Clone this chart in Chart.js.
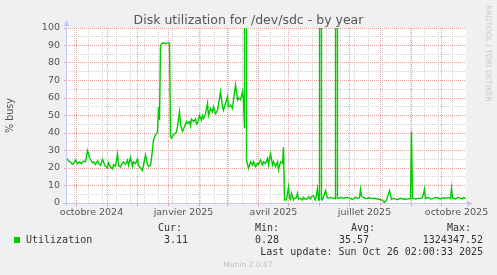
<!DOCTYPE html>
<html>
<head>
<meta charset="utf-8">
<script src="https://cdn.jsdelivr.net/npm/chart.js@4/dist/chart.umd.min.js"></script>
<style>
body { margin: 0; background: #f0f0f0; }
canvas { display: block; }
</style>
</head>
<body>
<canvas id="diskChart" width="497" height="275"></canvas>
<script>
// day 0 = 21 Sep 2024, day 399 = 26 Oct 2025 (one pixel per day)
var days = [0, 1, 2, 4, 6, 7, 9, 11, 13, 15,
  17, 19, 21, 23, 24, 26, 27, 29, 31, 33,
  34, 36, 38, 39, 41, 42, 44, 46, 47, 49,
  51, 52, 54, 55, 57, 59, 61, 62, 64, 66,
  67, 69, 71, 72, 74, 76, 77, 79, 81, 82,
  84, 85, 87, 89, 91, 92, 93, 94, 95, 97,
  99, 101, 103, 104, 105, 107, 109, 110, 111, 113,
  114, 115, 116, 118, 120, 121, 123, 124, 125, 127,
  129, 130, 131, 133, 135, 136, 137, 139, 141, 142,
  144, 146, 147, 149, 151, 152, 154, 156, 157, 159,
  161, 162, 164, 166, 167, 169, 171, 172, 174, 176,
  177, 178, 179, 180, 182, 184, 186, 187, 189, 191,
  192, 194, 196, 197, 199, 201, 202, 204, 206, 207,
  209, 211, 212, 214, 216, 217, 218, 219, 220, 222,
  223, 224, 225, 227, 228, 230, 231, 232, 234, 236,
  237, 239, 241, 242, 244, 245, 247, 248, 249, 251,
  252, 253, 254, 255, 256, 259, 261, 262, 264, 267,
  269, 270, 271, 272, 274, 277, 279, 281, 284, 286,
  289, 291, 293, 294, 295, 297, 299, 301, 303, 306,
  309, 311, 314, 316, 318, 320, 323, 325, 327, 329,
  331, 334, 337, 339, 342, 344, 345, 346, 348, 349,
  351, 354, 356, 358, 359, 362, 364, 366, 369, 372,
  374, 376, 379, 382, 384, 385, 386, 387, 389, 391,
  394, 396, 397, 398, 399];
var busy = [25, 25, 24, 23.5, 22, 22.5, 24.5, 22.5, 23.5, 22.5,
  24, 23.5, 30, 26, 25, 23, 23.5, 22, 24, 22,
  21.5, 25, 22, 21, 20, 23, 20.5, 19.5, 22, 21,
  28, 21.5, 20.5, 22, 23.5, 22, 24.5, 21.5, 26, 21,
  23.5, 22.5, 25, 21.5, 20, 18.5, 21.5, 27.4, 22, 21,
  21.5, 25.5, 36, 39, 40.4, 55, 47.4, 90, 91, 91.5,
  91, 91.5, 91.5, 38, 37, 39, 40, 40.8, 43.6, 52,
  45, 42.7, 41, 43.6, 46.5, 45.5, 46.5, 44, 48, 46.5,
  48, 45, 45.5, 50, 47.4, 50, 48.4, 51, 57, 50,
  54, 52, 55, 51, 53, 56, 63.6, 55, 53, 57,
  60.8, 55, 56, 54, 58.9, 67.4, 58.9, 60, 58.9, 63.6,
  58, 42.7, 1324347.52, 24.6, 19.8, 23.6, 21.7, 23.6, 20.8, 22.7,
  22, 24.6, 21.7, 23.6, 22.7, 25.5, 21.7, 28.4, 21.7, 23.6,
  20.8, 23.6, 18.9, 23.6, 22.7, 31.8, 1.7, 2, 1.7, 9,
  2.7, 2, 5.5, 1.7, 2.7, 3, 5.5, 2.3, 2.7, 1.7,
  3.2, 2, 2.5, 3.6, 2.3, 3.6, 4.2, 2.5, 1.7, 8.4,
  1.7, 2, 1900, 2, 1.7, 7, 2.9, 2.7, 3.2, 2.7,
  2.5, 2300, 2.7, 2.7, 3.2, 2.7, 3, 3.2, 2.5, 2,
  3.2, 2.7, 3, 7.8, 4, 3.2, 2.5, 2.7, 3, 2.5,
  2.7, 2.3, 2, 1.5, 0.28, 1.7, 7, 2, 2.7, 2.2,
  2, 2.7, 2.3, 2, 2.5, 2.3, 40.8, 2.7, 2.5, 2.3,
  2.5, 2.7, 3, 8, 2.5, 3.2, 2.3, 2.5, 3.2, 2.7,
  2.3, 3, 2.7, 3.2, 2.5, 8.4, 3, 2.7, 2.3, 3.2,
  2.7, 2.3, 3.2, 2.8, 3.11];

var monthStart = [10, 41, 71, 102, 133, 161, 192, 222, 253, 283, 314, 345, 375];
var minorDays = [8, 22, 36, 50, 64, 78, 92, 106, 120, 134, 148, 162, 176, 190,
  204, 218, 232, 246, 260, 274, 288, 302, 316, 330, 344, 358, 372, 386];
var labelDays = [25, 117, 207, 298, 390];
var labelText = ['octobre 2024', 'janvier 2025', 'avril 2025', 'juillet 2025', 'octobre 2025'];
var yTicks = [0, 5, 10, 15, 20, 25, 30, 35, 40, 45, 50, 55, 60, 65, 70, 75, 80, 85, 90, 95, 100];

var legendHead = ['Cur:', 'Min:', 'Avg:', 'Max:'];
var legendVals = ['3.11', '0.28', '35.57', '1324347.52'];

var RED = '#e6a0a0';
var GRAY = '#d2d2d2';
var AXIS = '#c4c8f4';
var NONE = 'rgba(0,0,0,0)';

var points = [];
for (var i = 0; i < days.length; i++) {
  points.push({x: days[i], y: busy[i]});
}

var muninPlugin = {
  id: 'munin',
  beforeDraw: function(c) {
    var a = c.chartArea, g = c.ctx;
    g.save();
    g.fillStyle = '#ffffff';
    g.fillRect(a.left, a.top, a.right - a.left, a.bottom - a.top);
    g.restore();
  },
  afterDraw: function(c) {
    var a = c.chartArea, g = c.ctx;
    g.save();
    // axes + arrows
    g.strokeStyle = AXIS;
    g.fillStyle = AXIS;
    g.lineWidth = 1;
    g.beginPath();
    g.moveTo(a.left - 3, a.bottom + 0.5);
    g.lineTo(a.right + 2, a.bottom + 0.5);
    g.moveTo(a.left + 0.5, a.bottom + 3);
    g.lineTo(a.left + 0.5, a.top - 2);
    g.stroke();
    g.beginPath();
    g.moveTo(a.left + 0.5, a.top - 8);
    g.lineTo(a.left - 2.5, a.top - 2);
    g.lineTo(a.left + 3.5, a.top - 2);
    g.closePath();
    g.fill();
    g.beginPath();
    g.moveTo(a.right + 7, a.bottom + 0.5);
    g.lineTo(a.right + 1, a.bottom - 2.5);
    g.lineTo(a.right + 1, a.bottom + 3.5);
    g.closePath();
    g.fill();

    // title
    g.fillStyle = '#555555';
    g.font = '12.5px "DejaVu Sans"';
    g.textAlign = 'center';
    g.textBaseline = 'alphabetic';
    g.fillText('Disk utilization for /dev/sdc - by year', 248.5, 23.5);

    // watermark
    g.save();
    g.translate(486, 53.5);
    g.rotate(Math.PI / 2);
    g.fillStyle = '#c8c8c8';
    g.font = '7.5px "DejaVu Sans"';
    g.fillText('RRDTOOL / TOBI OETIKER', 0, 0);
    g.restore();

    // legend
    g.font = '10px "DejaVu Sans Mono"';
    g.fillStyle = '#333333';
    g.textAlign = 'right';
    var headRight = [182, 279, 375, 471];
    var valRight = [188, 279, 369, 483];
    for (var k = 0; k < legendHead.length; k++) {
      g.fillText(legendHead[k], headRight[k], 231);
      g.fillText(legendVals[k], valRight[k], 243.3);
    }
    g.fillText('Last update: Sun Oct 26 02:00:33 2025', 483, 255);
    g.textAlign = 'left';
    g.fillText('Utilization', 26, 243.3);
    g.fillStyle = '#00cc00';
    g.fillRect(14, 237, 6, 6);

    g.fillStyle = '#c0c0c0';
    g.font = '7.5px "DejaVu Sans"';
    g.textAlign = 'center';
    g.fillText('Munin 2.0.67', 248, 266.5);
    g.restore();
  }
};

var ctx = document.getElementById('diskChart').getContext('2d');
var chart = new Chart(ctx, {
  type: 'line',
  data: {
    datasets: [{
      label: 'Utilization',
      data: points,
      borderColor: '#00cc00',
      borderWidth: 1.4,
      pointRadius: 0,
      fill: false,
      tension: 0
    }]
  },
  options: {
    responsive: false,
    animation: false,
    events: [],
    layout: {
      padding: {top: 28, right: 31, bottom: 0, left: 0},
      autoPadding: false
    },
    plugins: {
      legend: {display: false},
      tooltip: {enabled: false},
      title: {display: false}
    },
    scales: {
      x: {
        type: 'linear',
        // half-day offset puts each daily point in the middle of its pixel
        min: -0.5,
        max: 399.5,
        afterBuildTicks: function(scale) {
          var t = [];
          monthStart.forEach(function(d) { t.push({value: d}); });
          minorDays.forEach(function(d) { t.push({value: d}); });
          labelDays.forEach(function(d) { t.push({value: d}); });
          t.sort(function(p, q) { return p.value - q.value; });
          scale.ticks = t;
        },
        afterFit: function(scale) { scale.height = 72; },
        grid: {
          color: function(c) {
            var v = c.tick ? c.tick.value : -1;
            if (monthStart.indexOf(v) >= 0) return RED;
            if (minorDays.indexOf(v) >= 0) return GRAY;
            return NONE;
          },
          tickColor: function(c) {
            var v = c.tick ? c.tick.value : -1;
            return monthStart.indexOf(v) >= 0 ? RED : NONE;
          },
          tickLength: 3,
          lineWidth: 1
        },
        border: {display: false, dash: [1, 1]},
        ticks: {
          autoSkip: false,
          maxRotation: 0,
          padding: 1,
          color: '#555555',
          font: {family: 'DejaVu Sans', size: 9.5},
          callback: function(v) {
            var i = labelDays.indexOf(v);
            return i >= 0 ? labelText[i] : '';
          }
        }
      },
      y: {
        min: 0,
        max: 100,
        afterBuildTicks: function(scale) {
          scale.ticks = yTicks.map(function(v) { return {value: v}; });
        },
        afterFit: function(scale) { scale.width = 66; },
        grid: {
          color: function(c) {
            if (!c.tick) return NONE;
            return c.tick.value % 10 === 0 ? RED : GRAY;
          },
          tickColor: function(c) {
            if (!c.tick) return NONE;
            return c.tick.value % 10 === 0 ? RED : NONE;
          },
          tickLength: 2,
          lineWidth: 1
        },
        border: {display: false, dash: [1, 1]},
        ticks: {
          autoSkip: false,
          padding: 4,
          color: '#555555',
          font: {family: 'DejaVu Sans', size: 9.5},
          callback: function(v) { return v % 10 === 0 ? String(v) : ''; }
        },
        title: {
          display: true,
          text: '% busy',
          color: '#555555',
          font: {family: 'DejaVu Sans', size: 9.6},
          padding: {top: 5, bottom: 0}
        }
      }
    }
  },
  plugins: [muninPlugin]
});
</script>
</body>
</html>
